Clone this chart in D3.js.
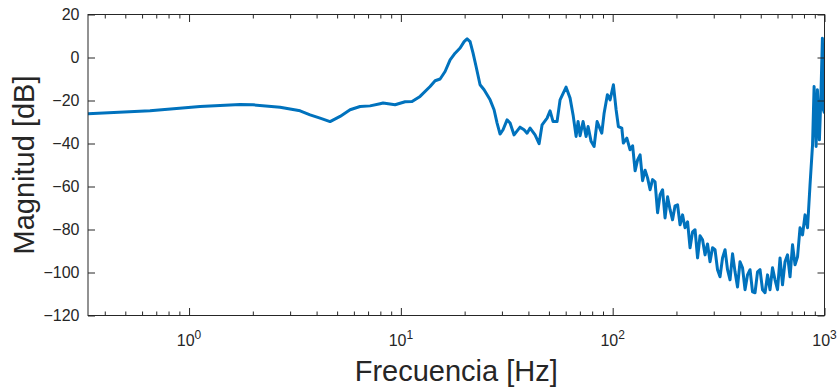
<!DOCTYPE html>
<html>
<head>
<meta charset="utf-8">
<script src="https://cdn.jsdelivr.net/npm/d3@7"></script>
<style>
  body { margin: 0; background: #fff; }
  text { font-family: "Liberation Sans", Arial, Helvetica, sans-serif; fill: #262626; }
</style>
</head>
<body>
<svg id="chart"></svg>
<script>
// frequency response
const freqHz = [
  0.333, 0.654, 1.127, 1.741, 2.005, 2.689, 3.343, 3.727, 4.154, 4.631,
  5.163, 5.757, 6.418, 7.154, 7.976, 8.241, 9.389, 10.47, 11.29, 12.32,
  13.74, 14.51, 15.32, 16.17, 17.08, 18.03, 19.04, 19.89, 20.54, 21.22,
  21.92, 22.65, 23.65, 24.71, 26.38, 27.54, 28.46, 29.40, 30.37, 31.72,
  32.78, 34.23, 36.54, 38.16, 39.43, 40.74, 43.01, 44.93, 46.42, 49.01,
  50.63, 52.31, 54.63, 56.44, 60.25, 62.93, 65.02, 67.18, 68.65, 70.17,
  72.49, 74.90, 76.55, 79.07, 81.70, 84.41, 88.83, 91.1, 94.4, 97.2,
  100.8, 103.8, 106.4, 110.4, 112.3, 116.6,
  120.8, 124.2, 127.6, 131.1, 134.7, 138.4, 142.2, 146.1, 150.2, 154.3,
  158.5, 162.9, 167.4, 172.0, 176.7, 181.6, 186.6, 191.7, 197.0, 202.4,
  208.0, 213.7, 219.6, 225.7, 231.9, 238.3, 244.8, 251.6, 258.5, 265.6,
  272.9, 280.4, 288.1, 296.1, 304.2, 312.6, 321.2, 330.1, 339.2, 348.5,
  358.1, 368.0, 378.1, 388.5, 399.2, 410.2, 421.5, 433.1, 445.1, 457.3,
  469.9, 482.9, 496.2, 509.8, 523.9, 538.3, 553.1, 568.4, 584.0, 600.1,
  616.7, 633.6, 651.1, 669.0, 687.5, 706.4, 725.9, 745.9, 766.4, 787.6,
  809.3, 831.6, 854.5, 878.1,
  893.1, 912.7, 925.8, 946.1, 960.6, 977.5, 988.1, 1000
];
const magnitudeDb = [
  -26.2, -24.8, -22.8, -21.9, -22.0, -23.1, -24.8, -26.7, -28.2, -29.8,
  -27.4, -24.3, -22.8, -22.5, -21.5, -21.2, -22.0, -20.6, -20.5, -18.1,
  -13.5, -10.8, -10.0, -6.5, -1.1, 2.0, 4.4, 7.4, 8.7, 7.4,
  2.0, -4.2, -12.7, -15.0, -19.7, -24.3, -30.5, -35.6, -33.6, -29.0,
  -30.5, -36.0, -32.4, -33.6, -35.2, -32.8, -36.0, -40.1, -31.3, -28.2,
  -24.8, -29.8, -29.8, -19.7, -13.8, -18.9, -26.7, -36.7, -29.8, -36.4,
  -29.8, -36.7, -32.1, -39.0, -41.4, -29.8, -35.2, -25.9, -17.3, -19.7,
  -12.7, -24.3, -32.1, -32.8, -39.8, -37.5,
  -42.9, -41.1, -52.7, -47.6, -45.3, -57.3, -52.4, -56.0, -61.5, -56.8,
  -57.8, -72.2, -63.8, -61.5, -74.6, -64.8, -70.8, -75.5, -69.0, -68.5,
  -77.8, -73.2, -79.2, -76.4, -88.5, -81.1, -80.1, -93.2, -82.9, -84.8,
  -91.8, -86.7, -95.0, -88.5, -89.4, -98.7, -102.0, -93.2, -89.4, -98.7,
  -103.4, -91.3, -99.7, -106.7, -95.0, -97.8, -108.0, -101.1, -98.7, -109.0,
  -109.4, -99.7, -98.7, -108.0, -109.4, -101.1, -108.0, -97.8, -103.4, -108.0,
  -93.2, -105.7, -95.0, -91.8, -102.0, -87.1, -96.4, -92.7, -79.2, -82.5,
  -73.2, -79.2, -59.2, -40.6,
  -13.5, -41.4, -15.0, -38.3, -19.7, 9.0, -24.3, -25.9
];

const yTicks = [-120, -100, -80, -60, -40, -20, 0, 20];
const xMajorTicks = [1, 10, 100, 1000];
const xTickExponents = ["0", "1", "2", "3"];
const xMinorTicks = [0.4, 0.5, 0.6, 0.7, 0.8, 0.9,
  2, 3, 4, 5, 6, 7, 8, 9,
  20, 30, 40, 50, 60, 70, 80, 90,
  200, 300, 400, 500, 600, 700, 800, 900];

const width = 837, height = 390;
const margin = {top: 14.5, right: 12.5, bottom: 74.5, left: 88};
const innerW = width - margin.left - margin.right;
const innerH = height - margin.top - margin.bottom;
const axisColor = "#262626";

const svg = d3.select("#chart")
  .attr("width", width)
  .attr("height", height);

const g = svg.append("g")
  .attr("transform", "translate(" + margin.left + "," + margin.top + ")");

const x = d3.scaleLog().domain([1/3, 1000]).range([0, innerW]);
const y = d3.scaleLinear().domain([-120, 20]).range([innerH, 0]);

// clip so the line stays inside the box
g.append("clipPath").attr("id", "clip")
  .append("rect").attr("width", innerW).attr("height", innerH);

const points = freqHz.map((f, i) => ({f: f, m: magnitudeDb[i]}));

g.append("path")
  .datum(points)
  .attr("clip-path", "url(#clip)")
  .attr("fill", "none")
  .attr("stroke", "#0072BD")
  .attr("stroke-width", 3)
  .attr("stroke-linejoin", "round")
  .attr("d", d3.line().x(d => x(d.f)).y(d => y(d.m)));

// ticks, pointing inwards on all four sides
function styleAxis(sel) {
  sel.select(".domain").remove();
  sel.selectAll("line").attr("stroke", axisColor);
}
g.append("g").attr("transform", "translate(0," + innerH + ")")
  .call(d3.axisBottom(x).tickValues(xMajorTicks).tickSize(-7.5).tickFormat(""))
  .call(styleAxis);
g.append("g").attr("transform", "translate(0," + innerH + ")")
  .call(d3.axisBottom(x).tickValues(xMinorTicks).tickSize(-4).tickFormat(""))
  .call(styleAxis);
g.append("g")
  .call(d3.axisTop(x).tickValues(xMajorTicks).tickSize(-7.5).tickFormat(""))
  .call(styleAxis);
g.append("g")
  .call(d3.axisTop(x).tickValues(xMinorTicks).tickSize(-4).tickFormat(""))
  .call(styleAxis);

const yAxis = g.append("g")
  .call(d3.axisLeft(y).tickValues(yTicks).tickSize(-7).tickPadding(8.5).tickFormat(d3.format("d")))
  .call(styleAxis);
yAxis.selectAll("text")
  .style("font-size", "16px")
  .style("fill", axisColor)
  .style("font-family", "'Liberation Sans', Arial, sans-serif");

g.append("g").attr("transform", "translate(" + innerW + ",0)")
  .call(d3.axisRight(y).tickValues(yTicks).tickSize(-7).tickFormat(""))
  .call(styleAxis);

// box
g.append("rect")
  .attr("width", innerW).attr("height", innerH)
  .attr("fill", "none")
  .attr("stroke", axisColor)
  .attr("stroke-width", 1);

// x tick labels as powers of ten
const xLab = g.append("g").selectAll("text")
  .data(xMajorTicks)
  .join("text")
    .attr("x", d => x(d))
    .attr("y", innerH + 30)
    .attr("text-anchor", "middle")
    .style("font-size", "16px");
xLab.append("tspan").text("10");
xLab.append("tspan")
  .attr("dy", -7)
  .style("font-size", "12px")
  .text((d, i) => xTickExponents[i]);

// axis titles
svg.append("text")
  .attr("x", margin.left + innerW / 2)
  .attr("y", 381)
  .attr("text-anchor", "middle")
  .style("font-size", "29px")
  .text("Frecuencia [Hz]");

svg.append("text")
  .attr("transform", "translate(34," + (margin.top + innerH / 2) + ") rotate(-90)")
  .attr("text-anchor", "middle")
  .style("font-size", "29px")
  .text("Magnitud [dB]");
</script>
</body>
</html>
